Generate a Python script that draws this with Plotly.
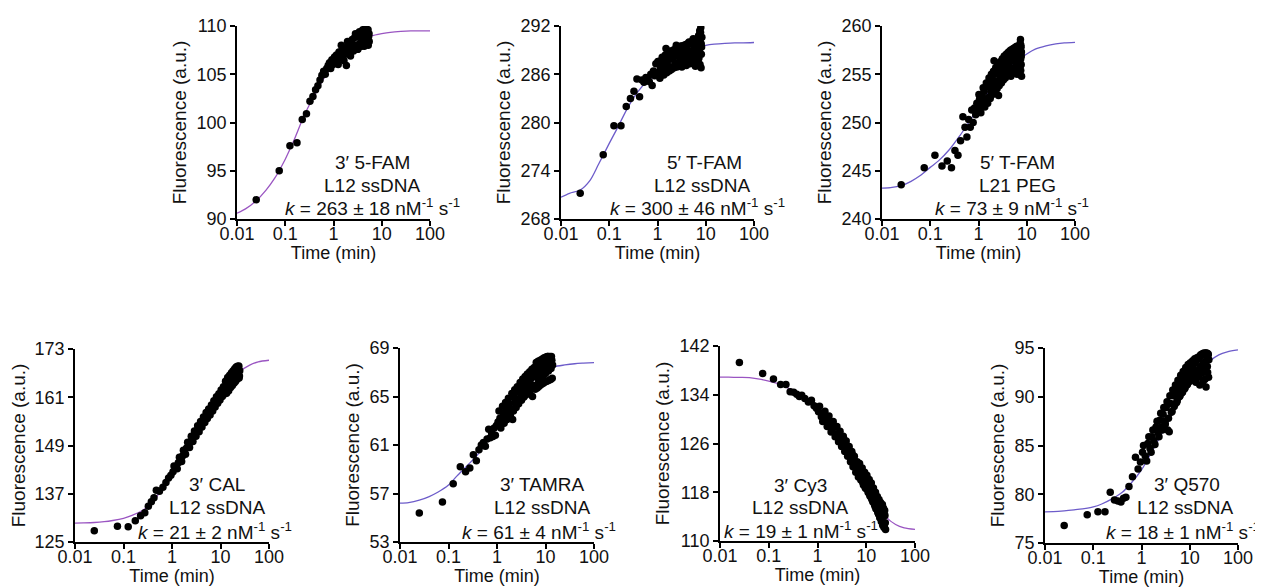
import plotly.graph_objects as go

W, H = 1263, 588          # target picture
OFF = 8                   # page body margin pushes the figure by 8 px
FW, FH = W - OFF, H - OFF
FONT = "Liberation Sans, Arial, Helvetica, sans-serif"

# ---- fitted curves: times (min) and values ----
curve_t = [0.01, 0.015, 0.025, 0.04, 0.06, 0.1, 0.15, 0.25, 0.4, 0.6, 1,
           1.5, 2.5, 4, 6, 10, 15, 25, 40, 60, 100]

c_p1 = [90.6, 91.05, 91.9, 93.0, 94.2, 96.2, 98.1, 100.8, 102.8, 104.4, 106.0,
        107.1, 108.0, 108.6, 108.95, 109.2, 109.35, 109.45, 109.5, 109.5, 109.5]
c_p2 = [270.7, 271.2, 271.6, 272.8, 274.8, 277.4, 279.4, 282.0, 283.9, 285.1, 286.1,
        287.1, 288.1, 288.8, 289.25, 289.6, 289.75, 289.85, 289.9, 289.9, 289.95]
c_p3 = [243.2, 243.25, 243.45, 243.9, 244.45, 245.35, 246.05, 247.2, 248.55, 249.85, 251.55,
        252.9, 254.4, 255.4, 256.3, 257.1, 257.6, 257.95, 258.15, 258.25, 258.3]
c_p4 = [129.7, 129.75, 129.85, 130.05, 130.35, 130.9, 131.6, 132.9, 134.9, 138.0, 142.2,
        145.8, 150.4, 154.2, 157.6, 161.5, 164.3, 167.4, 169.0, 169.8, 170.2]
c_p5 = [56.2, 56.25, 56.45, 56.75, 57.1, 57.7, 58.45, 59.35, 60.2, 61.2, 62.4,
        63.5, 64.7, 65.7, 66.45, 67.15, 67.45, 67.6, 67.7, 67.75, 67.8]
c_p6 = [136.9, 136.9, 136.85, 136.8, 136.6, 136.25, 135.85, 135.1, 134.4, 133.5, 132.1,
        130.6, 128.3, 125.9, 123.4, 119.9, 116.6, 114.0, 112.7, 112.15, 111.9]
c_p7 = [78.2, 78.22, 78.3, 78.4, 78.5, 78.7, 79.0, 79.55, 80.2, 81.1, 82.5,
        84.0, 86.0, 87.9, 89.5, 91.2, 92.4, 93.6, 94.3, 94.6, 94.8]

# ---- measured points ----
t_p1 = [0.025, 0.075, 0.125, 0.175, 0.225, 0.275, 0.325, 0.375, 0.425, 0.475,
        0.525, 0.575, 0.625, 0.675, 0.725, 0.775, 0.825, 0.875, 0.925, 0.975,
        1.05, 1.1, 1.15, 1.2, 1.3, 1.4, 1.5, 1.6, 1.7, 1.85,
        1.9, 2.0, 2.1, 2.2, 2.3, 2.45, 2.6, 2.75, 2.9, 3.05,
        3.2, 3.35, 3.5, 3.65, 3.8, 3.95, 4.1, 4.25, 4.4, 4.55,
        4.7, 4.85, 5.0, 5.2, 5.35, 5.5,
        1.25, 1.45, 1.65, 1.95, 2.25, 2.55, 2.85, 3.15, 3.45, 3.75,
        4.05, 4.35, 4.65, 4.95, 5.25, 5.45]
f_p1 = [92.0, 95.0, 97.6, 97.9, 100.3, 100.9, 102.2, 102.7, 103.4, 103.8,
        104.4, 104.9, 105.3, 105.0, 105.6, 105.9, 106.2, 105.6, 106.5, 106.0,
        106.8, 106.2, 107.0, 106.5, 107.3, 106.7, 107.5, 106.9, 107.7, 105.9,
        107.2, 108.0, 107.4, 108.3, 107.6, 108.6, 107.4, 108.8, 108.0, 108.9,
        107.6, 109.0, 108.2, 108.9, 107.9, 109.2, 108.5, 109.1, 108.0, 109.3,
        108.6, 109.5, 108.1, 109.6, 108.9, 108.4,
        106.0, 108.0, 106.4, 108.4, 106.9, 107.9, 109.2, 107.6, 109.4, 108.1,
        109.6, 107.9, 109.8, 108.3, 108.0, 109.2]

t_p2 = [0.025, 0.075, 0.125, 0.175, 0.225, 0.275, 0.325, 0.375, 0.425, 0.475,
        0.525, 0.575, 0.625, 0.675, 0.725, 0.775, 0.825, 0.875, 0.925, 0.975,
        1.05, 1.1, 1.15, 1.2, 1.3, 1.4, 1.5, 1.6, 1.7, 1.8,
        1.9, 2.0, 2.15, 2.3, 2.45, 2.6, 2.75, 2.9, 3.05, 3.2,
        3.35, 3.5, 3.65, 3.8, 3.95, 4.1, 4.3, 4.5, 4.7, 4.9,
        5.1, 5.3, 5.5, 5.7, 5.9, 6.1, 6.3, 6.5, 6.7, 6.9,
        7.1, 7.3, 7.5, 7.7, 7.9, 8.1, 8.3,
        1.02, 1.12, 1.25, 1.35, 1.45, 1.55, 1.65, 1.75, 1.85, 1.95,
        2.08, 2.22, 2.38, 2.52, 2.68, 2.82, 2.98, 3.12, 3.28, 3.42,
        3.58, 3.72, 3.88, 4.02, 4.2, 4.4, 4.6, 4.8, 5.0, 5.2,
        5.4, 5.6, 5.8, 6.0, 6.2, 6.4, 6.6, 6.8, 7.0, 7.2,
        7.4, 7.6, 7.8, 8.0, 8.2,
        1.15, 1.3, 1.6, 2.05, 2.55, 3.0, 3.5, 4.0, 4.45, 5.05,
        5.5, 6.05, 6.55, 7.05, 7.55, 8.05]
f_p2 = [271.2, 276.0, 279.6, 279.6, 282.0, 283.0, 283.9, 285.4, 283.2, 285.3,
        285.0, 285.6, 285.4, 285.1, 286.0, 284.6, 286.4, 285.8, 287.3, 286.2,
        287.6, 286.0, 287.0, 285.9, 287.8, 286.4, 289.2, 287.2, 288.9, 286.5,
        287.9, 286.9, 288.4, 287.4, 289.6, 287.0, 288.8, 287.8, 289.5, 286.9,
        288.3, 289.0, 287.5, 288.7, 287.1, 289.4, 288.0, 290.0, 287.3, 288.6,
        289.8, 287.8, 290.4, 288.3, 289.2, 287.0, 290.2, 288.7, 289.6, 287.6,
        290.8, 289.0, 291.4, 290.0, 291.8, 288.5, 290.6,
        287.6, 285.5, 288.1, 285.9, 288.4, 286.2, 288.6, 286.4, 288.8, 286.6,
        289.0, 286.8, 289.2, 286.9, 289.3, 287.1, 289.4, 287.2, 289.5, 287.3,
        289.6, 287.4, 289.7, 287.5, 289.8, 287.6, 289.9, 287.7, 290.0, 287.7,
        290.1, 287.8, 290.2, 287.8, 290.3, 287.9, 290.4, 287.9, 290.5, 288.0,
        290.9, 287.2, 291.2, 286.8, 289.4,
        286.7, 287.0, 287.7, 288.0, 288.3, 288.5, 288.4, 288.7, 288.8, 288.9,
        289.0, 288.9, 289.1, 289.2, 289.5, 289.8]

t_p3 = [0.025, 0.075, 0.125, 0.175, 0.225, 0.275, 0.325, 0.375, 0.425, 0.475,
        0.525, 0.575, 0.625, 0.675, 0.725, 0.775, 0.825, 0.875, 0.925, 0.975,
        1.05, 1.1, 1.15, 1.2, 1.3, 1.4, 1.5, 1.6, 1.7, 1.8,
        1.9, 2.0, 2.1, 2.2, 2.35, 2.5, 2.6, 2.75, 2.9, 3.05,
        3.2, 3.35, 3.5, 3.7, 3.9, 4.1, 4.3, 4.5, 4.7, 4.9,
        5.1, 5.3, 5.5, 5.7, 5.9, 6.1, 6.3, 6.5, 6.7, 6.9,
        7.1, 7.3, 7.4, 7.5, 7.6, 7.7, 7.8,
        1.02, 1.12, 1.25, 1.35, 1.45, 1.55, 1.65, 1.75, 1.85, 1.95,
        2.05, 2.15, 2.28, 2.42, 2.55, 2.68, 2.82, 2.98, 3.12, 3.28,
        3.42, 3.6, 3.8, 4.0, 4.2, 4.4, 4.6, 4.8, 5.0, 5.2,
        5.4, 5.6, 5.8, 6.0, 6.2, 6.4, 6.6, 6.8, 7.0, 7.2,
        7.35, 7.45, 7.55, 7.65, 7.75,
        1.25, 1.75, 2.0, 2.5, 3.0, 3.5, 4.0, 4.5, 5.0, 5.5,
        6.0, 6.5, 7.0, 7.5]
f_p3 = [243.55, 245.3, 246.6, 245.5, 246.0, 245.3, 247.1, 246.6, 248.1, 250.6,
        249.5, 248.5, 250.3, 249.5, 251.3, 250.0, 251.5, 250.8, 252.0, 251.3,
        252.4, 251.6, 252.8, 252.0, 253.2, 252.4, 253.8, 252.6, 254.2, 253.2,
        254.6, 253.5, 256.4, 254.0, 255.2, 254.3, 252.8, 255.7, 254.6, 256.2,
        255.0, 256.6, 255.3, 256.9, 255.1, 257.2, 255.8, 257.0, 254.8, 256.4,
        257.3, 255.6, 256.8, 255.2, 257.4, 256.2, 255.0, 257.0, 255.8, 257.6,
        256.5, 258.2, 258.6, 255.4, 257.8, 256.9, 254.8,
        252.9, 251.0, 253.6, 251.6, 254.1, 252.0, 254.6, 252.5, 255.0, 252.9,
        255.3, 253.2, 255.7, 253.5, 256.0, 253.8, 256.3, 254.1, 256.6, 254.4,
        256.9, 254.6, 257.1, 254.9, 257.3, 255.1, 257.5, 255.3, 257.6, 255.5,
        257.7, 255.6, 257.8, 255.8, 257.9, 255.9, 257.5, 255.7, 258.0, 256.2,
        257.2, 255.9, 258.0, 256.0, 257.3,
        252.5, 253.6, 254.4, 255.0, 255.4, 255.9, 256.1, 256.3, 256.5, 256.5,
        256.7, 256.5, 256.8, 256.6]

t_p5 = [0.025, 0.075, 0.125, 0.175, 0.225, 0.275, 0.325, 0.375, 0.425, 0.475,
        0.525, 0.575, 0.625, 0.675, 0.725, 0.775, 0.825, 0.875, 0.925, 0.975,
        1.05, 1.15, 1.25, 1.35, 1.45, 1.55, 1.65, 1.8, 1.95, 2.1,
        2.25, 2.4, 2.55, 2.7, 2.9, 3.1, 3.3, 3.5, 3.7, 3.9,
        4.1, 4.35, 4.6, 4.85, 5.1, 5.4, 5.7, 6.0, 6.3, 6.6,
        6.9, 7.2, 7.6, 8.0, 8.4, 8.8, 9.2, 9.6, 10.0, 10.5,
        11.0, 11.5, 12.0, 12.5, 13.0, 13.5, 14.0,
        1.1, 1.2, 1.3, 1.4, 1.5, 1.6, 1.72, 1.88, 2.02, 2.18,
        2.32, 2.48, 2.62, 2.8, 3.0, 3.2, 3.4, 3.6, 3.8, 4.0,
        4.22, 4.48, 4.72, 4.98, 5.25, 5.55, 5.85, 6.15, 6.45, 6.75,
        7.05, 7.4, 7.8, 8.2, 8.6, 9.0, 9.4, 9.8, 10.25, 10.75,
        11.25, 11.75, 12.25, 12.75, 13.25, 13.75,
        3.0, 3.5, 4.0, 4.5, 5.0, 5.5, 6.0, 6.5, 7.0, 7.5,
        8.0, 8.5, 9.0, 9.5, 10.0, 11.0, 12.0, 13.0]
f_p5 = [55.4, 56.3, 57.8, 59.2, 58.8, 59.1, 60.2, 59.7, 60.6, 61.0,
        61.2, 60.9, 61.5, 62.3, 61.6, 62.0, 61.7, 62.4, 61.8, 62.6,
        62.9, 63.2, 62.8, 63.6, 63.3, 64.0, 63.5, 64.4, 64.0, 63.1,
        64.9, 64.5, 65.4, 64.8, 65.6, 65.0, 65.9, 65.3, 66.2, 65.6,
        66.5, 65.8, 66.7, 66.1, 67.0, 65.0, 67.2, 65.9, 67.4, 66.6,
        67.6, 66.2, 67.8, 66.8, 68.0, 66.5, 67.5, 68.1, 66.9, 67.7,
        68.3, 67.1, 67.9, 68.2, 67.3, 68.0, 67.6,
        63.8, 62.4, 64.2, 62.8, 64.5, 63.1, 64.85, 63.45, 65.25, 63.8,
        65.55, 64.1, 65.8, 64.4, 66.15, 64.7, 66.45, 64.95, 66.65, 65.15,
        66.85, 65.35, 67.05, 65.55, 67.25, 65.75, 67.4, 65.6, 67.8, 65.7,
        67.9, 65.85, 68.0, 66.0, 68.1, 66.1, 68.2, 66.2, 68.25, 66.25,
        68.3, 66.35, 68.3, 66.4, 68.3, 66.5,
        65.5, 65.7, 66.0, 66.3, 66.5, 66.6, 66.9, 66.9, 67.0, 67.1,
        67.3, 67.2, 67.4, 67.3, 67.5, 67.5, 67.6, 67.7]

# the three 25-min runs share one set of read-off times
t_long = [0.025, 0.075, 0.125, 0.175, 0.225, 0.275, 0.325, 0.375, 0.425, 0.475,
          0.55, 0.65, 0.75, 0.85, 0.95, 1.05, 1.2, 1.35, 1.5, 1.65,
          1.8, 2.0, 2.2, 2.4, 2.6, 2.8, 3.0, 3.25, 3.5, 3.75,
          4.0, 4.3, 4.6, 4.9, 5.2, 5.5, 5.9, 6.3, 6.7, 7.1,
          7.5, 8.0, 8.5, 9.0, 9.5, 10.0, 10.6, 11.2, 11.8, 12.4,
          13.0, 13.7, 14.4, 15.1, 15.8, 16.5, 17.2, 17.9, 18.6, 19.3,
          20.0, 20.7, 21.4, 22.1, 22.8, 23.5, 24.2, 24.9,
          1.1, 1.28, 1.42, 1.58, 1.72, 1.9, 2.1, 2.3, 2.5, 2.7,
          2.9, 3.12, 3.38, 3.62, 3.88, 4.15, 4.45, 4.75, 5.05, 5.35,
          5.7, 6.1, 6.5, 6.9, 7.3, 7.75, 8.25, 8.75, 9.25, 9.75,
          10.3, 10.9, 11.5, 12.1, 12.7, 13.35, 14.05, 14.75, 15.45, 16.15,
          16.85, 17.55, 18.25, 18.95, 19.65, 20.35, 21.05, 21.75, 22.45, 23.15,
          23.85, 24.55]
f_p4 = [127.8, 128.9, 128.8, 130.3, 131.5, 132.3, 133.9, 135.0, 136.0, 137.9,
        137.6, 138.6, 139.8, 140.9, 141.6, 142.5, 143.6, 144.7, 145.6, 146.4,
        147.3, 148.4, 149.1, 149.9, 150.7, 151.3, 152.0, 152.6, 153.2, 153.7,
        154.3, 154.9, 155.4, 156.0, 156.5, 156.9, 157.4, 157.9, 158.3, 158.9,
        159.3, 159.9, 160.3, 160.8, 161.1, 161.6, 162.0, 162.4, 162.9, 163.1,
        163.5, 164.0, 164.2, 164.7, 164.9, 165.3, 165.5, 165.8, 165.2, 167.0,
        165.8, 167.5, 166.0, 168.2, 166.4, 168.5, 165.8, 167.6,
        143.9, 143.2, 146.1, 145.0, 147.8, 146.8, 149.8, 148.5, 151.3, 150.0,
        152.6, 151.3, 153.9, 152.4, 155.0, 153.6, 156.1, 154.7, 157.2, 155.7,
        158.1, 156.6, 159.1, 157.6, 160.1, 158.6, 161.1, 159.5, 161.9, 160.3,
        162.8, 161.2, 163.6, 161.8, 165.0, 162.0, 165.9, 162.6, 166.5, 163.4,
        167.1, 163.9, 167.6, 164.5, 168.1, 164.9, 168.5, 165.4, 168.7, 165.9,
        168.8, 166.3]
f_p6 = [139.3, 137.5, 136.6, 135.7, 135.7, 134.5, 134.4, 134.1, 133.7, 133.9,
        133.4, 132.8, 133.1, 132.2, 131.8, 131.2, 130.4, 130.8, 129.6, 130.0,
        128.9, 128.4, 128.9, 127.6, 127.1, 127.6, 126.5, 126.0, 126.6, 125.3,
        124.9, 125.4, 123.9, 123.5, 124.2, 122.7, 122.3, 122.9, 121.4, 121.0,
        121.7, 120.2, 119.6, 120.4, 118.8, 118.8, 119.6, 117.9, 117.5, 118.7,
        116.9, 116.4, 117.6, 115.7, 115.3, 116.8, 114.8, 114.4, 116.2, 113.9,
        115.5, 113.4, 116.0, 112.9, 114.8, 112.3, 114.2, 111.9,
        132.1, 129.6, 131.3, 128.8, 130.5, 127.9, 129.6, 127.1, 128.8, 126.3,
        128.0, 125.5, 127.2, 124.7, 126.4, 123.9, 125.5, 123.0, 124.7, 122.2,
        123.9, 121.3, 123.0, 120.5, 122.7, 120.0, 122.0, 119.2, 121.3, 118.6,
        120.8, 118.0, 120.1, 117.3, 119.5, 116.7, 118.7, 116.0, 118.0, 115.3,
        117.3, 114.6, 116.8, 113.8, 116.3, 113.2, 115.8, 112.6, 115.4, 112.2,
        115.0, 113.0]
f_p7 = [76.8, 77.9, 78.2, 78.2, 80.2, 79.4, 79.3, 79.2, 79.6, 79.7,
        80.8, 81.8, 83.8, 82.6, 83.3, 84.3, 83.9, 85.2, 84.7, 85.9,
        85.5, 86.9, 86.3, 87.6, 86.9, 88.2, 87.5, 88.9, 86.6, 86.4,
        89.3, 88.5, 90.1, 89.2, 90.6, 89.6, 91.0, 90.1, 91.4, 90.5,
        91.8, 90.9, 92.2, 91.3, 92.6, 91.6, 92.9, 92.0, 93.2, 92.3,
        93.5, 92.6, 93.8, 92.0, 94.0, 93.1, 94.2, 92.4, 94.3, 93.5,
        94.4, 91.8, 94.5, 93.7, 94.4, 92.5, 94.3, 93.8,
        85.0, 83.4, 85.9, 84.3, 86.6, 85.1, 87.5, 85.9, 88.3, 86.6,
        88.9, 87.2, 89.5, 87.8, 90.1, 88.4, 90.7, 89.0, 91.2, 89.4,
        91.7, 90.0, 92.2, 90.4, 92.6, 90.8, 93.0, 91.2, 93.3, 91.6,
        93.5, 91.9, 93.7, 92.2, 93.9, 91.5, 94.0, 92.7, 94.1, 91.2,
        94.3, 93.0, 94.4, 91.6, 94.5, 92.9, 94.3, 91.0, 94.5, 93.1,
        94.4, 92.0]

# ---- labels ----
dyes = ["3\u2032 5-FAM", "5\u2032 T-FAM", "5\u2032 T-FAM", "3\u2032 CAL",
        "3\u2032 TAMRA", "3\u2032 Cy3", "3\u2032 Q570"]
linkers = ["L12 ssDNA", "L12 ssDNA", "L21 PEG", "L12 ssDNA",
           "L12 ssDNA", "L12 ssDNA", "L12 ssDNA"]
k_vals = ["263 \u00b1 18", "300 \u00b1 46", "73 \u00b1 9", "21 \u00b1 2",
          "61 \u00b1 4", "19 \u00b1 1", "18 \u00b1 1"]
y_ticks = [[90, 95, 100, 105, 110], [268, 274, 280, 286, 292], [240, 245, 250, 255, 260],
           [125, 137, 149, 161, 173], [53, 57, 61, 65, 69], [110, 118, 126, 134, 142],
           [75, 80, 85, 90, 95]]
x_ticks = [0.01, 0.1, 1, 10, 100]
x_text = ["0.01", "0.1", "1", "10", "100"]

points = [(t_p1, f_p1), (t_p2, f_p2), (t_p3, f_p3), (t_long, f_p4),
          (t_p5, f_p5), (t_long, f_p6), (t_long, f_p7)]
curves = [c_p1, c_p2, c_p3, c_p4, c_p5, c_p6, c_p7]

# layout: plot boxes in target pixels (left, right, top, bottom) and label anchors
boxes = [(237, 430, 26, 219), (561, 754, 26, 219), (882, 1075, 26, 219),
         (75, 269, 349, 542), (400, 594, 348, 542), (720, 915, 346, 541),
         (1045, 1238, 348, 543)]
label_pos = [[(372, 162), (372, 185), (372, 207)],
             [(704, 162), (702, 185), (697, 207)],
             [(1017, 162), (1017, 185), (1012, 207)],
             [(217, 484), (217, 508), (215, 531)],
             [(542, 484), (542, 508), (539, 531)],
             [(800, 485), (800, 508), (801, 530)],
             [(1187, 484), (1185, 508), (1183, 531)]]
violet, indigo = "#9a55c2", "#6d5cca"
curve_cols = [violet, indigo, indigo, violet, indigo, violet, indigo]

fig = go.Figure()
annotations = []
for i in range(7):
    n = "" if i == 0 else str(i + 1)
    t, f = points[i]
    fig.add_trace(go.Scatter(x=curve_t, y=curves[i], mode="lines",
                             line=dict(color=curve_cols[i], width=1.3, shape="spline", smoothing=0.8),
                             xaxis="x" + n, yaxis="y" + n, hoverinfo="skip"))
    fig.add_trace(go.Scatter(x=t, y=f, mode="markers",
                             marker=dict(size=7.5, color="black", line=dict(width=0)),
                             xaxis="x" + n, yaxis="y" + n))

    l, r, top, b = [v - OFF for v in boxes[i]]
    axis_style = dict(showline=True, linecolor="black", linewidth=1.8, ticks="outside",
                      ticklen=5, tickwidth=1.5, tickcolor="black", showgrid=False,
                      zeroline=False, automargin=False, tickfont=dict(size=18, color="#111"))
    fig.layout["xaxis" + n] = dict(axis_style, type="log", range=[-2, 2], domain=[l / FW, r / FW],
                                   anchor="y" + n, tickvals=x_ticks, ticktext=x_text,
                                   ticklabelstandoff=-8,
                                   title=dict(text="Time (min)", standoff=2, font=dict(size=18)))
    yt = y_ticks[i]
    fig.layout["yaxis" + n] = dict(axis_style, range=[yt[0], yt[-1]], domain=[1 - b / FH, 1 - top / FH],
                                   anchor="x" + n, tickvals=yt,
                                   title=dict(text="Fluorescence (a.u.)", standoff=5, font=dict(size=19)))

    lines = [dyes[i], linkers[i], "<i>k</i> = " + k_vals[i] + " nM<sup>-1</sup> s<sup>-1</sup>"]
    for txt, (px, py) in zip(lines, label_pos[i]):
        annotations.append(dict(text=txt, x=(px - OFF) / FW, y=1 - (py - OFF) / FH,
                                xref="paper", yref="paper", xanchor="center", yanchor="middle",
                                showarrow=False, font=dict(size=19, color="#111")))

fig.update_layout(template="none", width=FW, height=FH, margin=dict(l=0, r=0, t=0, b=0),
                  paper_bgcolor="white", plot_bgcolor="white", showlegend=False,
                  font=dict(family=FONT, color="#111"), annotations=annotations)

fig.write_html("out.html")
